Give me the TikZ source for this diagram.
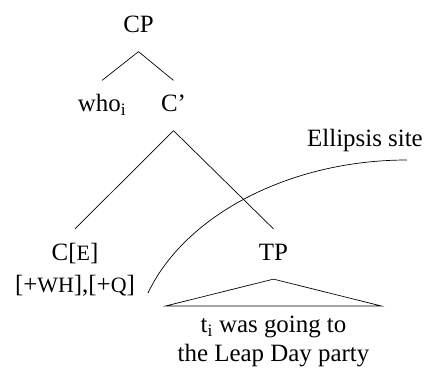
\documentclass[tikz,border=0pt]{standalone}
\usepackage{fontspec}
\setmainfont{Liberation Serif}
\newcommand{\fsc}[1]{{\fontsize{22}{24}\selectfont #1}}

\begin{document}
\begin{tikzpicture}[x=1bp,y=-1bp,font=\fontsize{25}{28.5}\selectfont,
  cat/.style={anchor=base,inner xsep=0pt,inner ysep=14pt,text height=17pt,text depth=5pt},
  leaf/.style={anchor=north,align=center,inner xsep=12pt,inner ysep=10pt},
  branch/.style={line width=0.7pt}]
\useasboundingbox (0,0) rectangle (427,374);
\node[cat] (cp) at (138.5,32.5) {CP};
\node[cat] (who) at (102,111.5) {who\textsubscript{i}};
\node[cat] (cbar) at (173.5,111.5) {C'};
\node[cat] (c) at (75,260) {C[\fsc{E}]};
\node[cat,inner ysep=0pt] (feat) at (75,292) {[+\fsc{WH}],[+\fsc{Q}]};
\node[cat] (tp) at (273.5,260) {TP};
\node[leaf] (vp) at (273.5,306) {t\textsubscript{i} was going to\\the Leap Day party};
\node[anchor=base,inner sep=0pt] (site) at (365,146) {Ellipsis site};
\coordinate (arcstart) at (148,293);
\coordinate (arcend) at (407,160);
\draw[branch] (cp.south) -- (who.north);
\draw[branch] (cp.south) -- (cbar.north);
\draw[branch] (cbar.south) -- (c.north);
\draw[branch] (cbar.south) -- (tp.north);
\draw[branch] (tp.south) -- (vp.north west) -- (vp.north east) -- cycle;
\draw[branch] (arcstart) .. controls (185,215) and (290,160) .. (arcend);
\end{tikzpicture}
\end{document}
